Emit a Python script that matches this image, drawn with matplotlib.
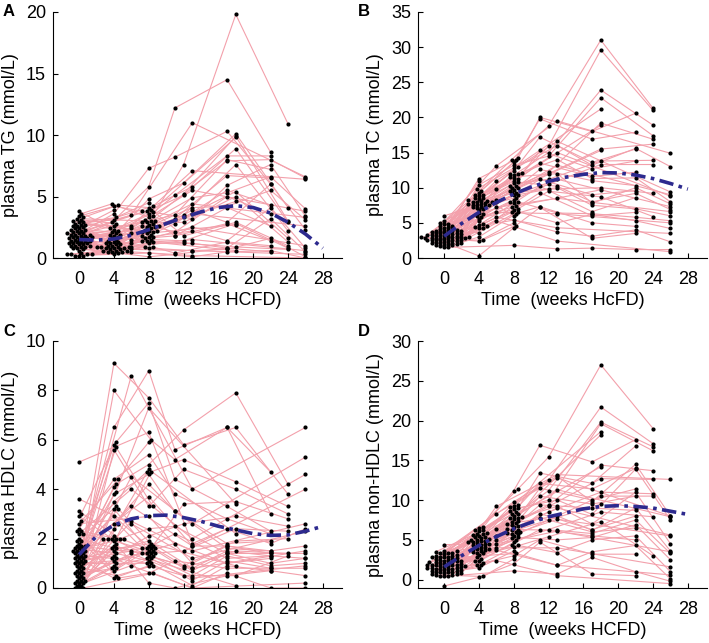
import numpy as np
import matplotlib
matplotlib.use('Agg')
import matplotlib.pyplot as plt

# Sampling schedules (weeks on HCFD) of the separate cohorts
weeks_a = [0, 4, 8, 12, 18, 24]
weeks_b = [0, 4, 8, 11, 17, 22]
weeks_c = [0, 6, 13, 26]
weeks_d = [0, 8, 13, 17, 22, 26]
weeks_e = [0, 4, 8, 18]
weeks_f = [0, 4, 8]
weeks_g = [0, 4]

# ---- plasma TG (mmol/L), one row per animal ----
tg_a = [[2.1, 1.8, 3.4, 7.6, 19.8, 10.9], [1.6, 2.2, 4.8, 6.1, 10.1, 4.1],
        [1.2, 0.9, 2.6, 5.2, 9.9, 3.0], [2.8, 3.1, 3.9, 5.1, 8.9, 2.9],
        [0.3, 1.1, 2.2, 3.5, 7.6, 2.2], [1.9, 2.6, 1.8, 3.3, 5.4, 1.6],
        [2.4, 1.4, 2.9, 2.9, 5.0, 1.3], [3.3, 4.3, 4.1, 1.8, 2.9, 1.0],
        [1.0, 0.7, 1.5, 1.4, 2.8, 0.8], [0.2, 0.5, 1.2, 1.2, 0.9, 0.7]]
tg_b = [[1.8, 2.9, 5.8, 12.2, 14.5, 8.6], [2.3, 3.6, 7.3, 8.2, 10.3, 6.0],
        [1.4, 1.9, 3.7, 5.1, 8.3, 8.3], [3.0, 2.4, 2.9, 3.5, 8.0, 7.2],
        [2.6, 1.2, 2.3, 3.2, 6.7, 6.5], [0.9, 0.8, 1.9, 2.8, 5.5, 4.3],
        [1.5, 2.0, 2.7, 2.1, 5.0, 3.6], [3.6, 4.4, 3.3, 1.8, 4.1, 2.6],
        [1.1, 1.0, 1.6, 1.8, 2.8, 1.4], [0.3, 0.6, 0.9, 0.4, 1.3, 1.0],
        [0.7, 0.4, 0.1, 0.3, 0.8, 0.5]]
tg_c = [[2.0, 3.5, 11.0, 6.6], [2.7, 2.6, 7.1, 6.4], [1.3, 2.4, 5.5, 3.8],
        [1.7, 2.0, 4.4, 3.3], [3.8, 1.5, 3.6, 2.6], [0.8, 1.2, 2.5, 1.0],
        [2.2, 0.9, 1.5, 0.6], [1.4, 0.7, 0.6, 0.3], [0.2, 0.5, 0.2, 0.0]]
tg_d = [[2.5, 4.2, 5.8, 7.9, 8.0, 6.5], [1.9, 3.8, 3.2, 5.9, 7.6, 3.4],
        [3.2, 3.0, 4.9, 5.3, 6.6, 4.0], [1.6, 2.5, 4.1, 4.2, 5.5, 3.1],
        [2.9, 2.1, 3.9, 2.9, 6.0, 2.3], [1.2, 1.7, 2.2, 1.4, 4.1, 0.8],
        [0.6, 1.4, 1.2, 0.8, 3.2, 0.5], [2.0, 0.8, 0.6, 0.7, 1.6, 0.1],
        [0.3, 0.4, 0.1, 0.5, 0.6, 0.0]]
tg_e = [[1.7, 2.3, 3.6, 9.8], [2.2, 1.6, 2.4, 4.6], [1.0, 0.9, 2.0, 2.7],
        [0.4, 0.6, 1.3, 0.6]]
tg_f = [[3.4, 4.2, 3.8], [2.9, 3.3, 4.5], [2.4, 2.1, 3.1], [2.0, 1.7, 2.8],
        [1.8, 1.3, 2.5], [1.6, 1.0, 2.1], [1.3, 0.8, 1.7], [1.1, 0.9, 3.0],
        [0.9, 1.2, 2.6], [0.3, 0.5, 1.4], [2.6, 1.5, 2.2], [1.5, 0.7, 0.9]]
tg_g = [[3.1, 2.8], [2.3, 1.9], [1.9, 1.3], [1.7, 0.9], [1.4, 1.1],
        [1.2, 0.8], [1.0, 0.6], [0.8, 0.5], [0.2, 0.3], [2.7, 3.9]]

# ---- plasma TC (mmol/L) ----
tc_a = [[3.2, 9.0, 14.0, 18.8, 31.0, 21.3], [4.1, 8.4, 12.1, 15.9, 29.6, 21.0],
        [2.8, 7.6, 11.8, 15.0, 23.9, 18.9], [3.6, 10.4, 13.2, 14.5, 22.8, 17.4],
        [2.5, 6.8, 10.0, 12.2, 19.2, 16.9], [4.6, 8.1, 9.5, 12.0, 15.5, 16.2],
        [3.0, 7.9, 10.6, 11.2, 13.8, 13.9], [2.1, 5.2, 8.3, 10.5, 13.3, 13.3],
        [3.9, 7.2, 9.0, 9.8, 10.0, 9.2], [1.8, 4.4, 7.0, 9.5, 8.7, 5.9]]
tc_b = [[3.5, 11.3, 14.2, 20.0, 18.0, 20.6], [4.3, 9.6, 13.6, 19.8, 16.9, 17.9],
        [2.9, 8.8, 12.4, 17.2, 13.6, 15.5], [3.1, 8.0, 11.2, 15.3, 12.7, 13.8],
        [5.0, 7.7, 10.3, 13.5, 11.6, 12.2], [2.6, 7.4, 9.7, 12.6, 11.0, 10.3],
        [3.4, 6.4, 8.9, 11.2, 9.0, 9.6], [2.2, 4.7, 7.8, 10.2, 6.6, 8.6],
        [3.8, 5.6, 6.9, 9.3, 6.0, 6.5], [1.6, 3.0, 6.3, 7.3, 5.0, 4.5],
        [2.4, 2.6, 4.6, 7.2, 2.8, 3.5]]
tc_c = [[4.5, 13.1, 19.5, 14.9], [3.3, 11.0, 16.6, 9.4], [2.7, 9.8, 15.0, 8.8],
        [6.0, 8.3, 13.2, 9.0], [3.0, 8.0, 11.2, 7.3], [2.3, 7.2, 8.5, 6.6],
        [3.7, 6.5, 6.3, 5.0], [1.9, 5.8, 4.3, 3.5], [2.0, 5.3, 2.4, 0.9]]
tc_d = [[3.5, 13.0, 16.0, 13.2, 15.6, 13.0], [4.0, 12.0, 14.0, 11.3, 11.4, 8.0],
        [2.8, 11.5, 12.0, 7.8, 10.0, 7.7], [3.1, 10.8, 10.2, 8.0, 9.2, 6.9],
        [2.5, 9.3, 10.0, 7.5, 7.0, 6.0], [4.8, 8.0, 6.4, 6.3, 5.8, 5.3],
        [2.0, 6.6, 5.0, 6.2, 5.3, 4.2], [3.3, 5.4, 3.7, 3.1, 4.0, 2.3],
        [1.5, 1.8, 1.3, 1.4, 1.2, 1.2]]
tc_e = [[3.6, 9.8, 12.8, 21.2], [2.9, 8.6, 11.0, 18.9], [4.2, 7.3, 9.9, 15.3],
        [2.2, 5.9, 7.4, 9.7]]
tc_f = [[5.2, 9.3, 13.9], [4.4, 8.9, 12.0], [3.8, 8.2, 11.4], [3.2, 7.8, 10.2],
        [2.9, 7.5, 9.2], [2.6, 7.1, 8.6], [3.4, 6.2, 8.0], [2.4, 4.5, 7.2],
        [1.9, 4.2, 6.5], [3.0, 2.4, 5.0], [2.7, 0.3, 4.3], [4.0, 7.9, 6.0]]
tc_g = [[4.9, 10.9], [3.7, 8.5], [3.3, 7.7], [3.0, 8.1], [2.6, 7.0],
        [2.3, 6.0], [2.1, 4.8], [1.7, 4.3], [3.9, 3.6], [2.8, 7.6]]

# ---- plasma HDLC (mmol/L) ----
hdl_a = [[1.4, 4.2, 5.0, 6.4, 7.9, 4.2], [0.8, 9.1, 7.7, 5.8, 6.5, 3.8],
         [2.3, 2.0, 4.7, 5.2, 4.3, 3.3], [0.3, 5.6, 3.3, 4.8, 4.0, 3.0],
         [1.6, 2.9, 1.6, 3.4, 3.5, 2.8], [1.1, 1.3, 2.1, 2.6, 2.9, 2.5],
         [0.1, 3.2, 1.4, 1.5, 2.4, 2.3], [2.9, 2.0, 1.3, 0.9, 1.9, 2.0],
         [0.6, 0.8, 1.7, 0.8, 1.5, 1.4], [1.2, 0.4, 0.9, 0.5, 0.5, 1.3]]
hdl_b = [[1.5, 6.5, 8.8, 5.6, 6.5, 4.7], [0.4, 8.0, 6.0, 5.2, 6.5, 3.0],
         [1.7, 5.8, 7.5, 4.4, 3.3, 2.3], [2.4, 4.4, 5.4, 3.8, 2.8, 2.2],
         [0.9, 3.8, 4.6, 3.1, 1.8, 1.9], [1.3, 2.6, 4.2, 3.1, 1.6, 1.5],
         [3.1, 2.0, 2.4, 2.5, 1.4, 1.4], [0.2, 1.5, 1.6, 2.2, 1.2, 1.3],
         [1.0, 1.1, 1.5, 1.8, 1.0, 1.2], [1.9, 0.4, 0.6, 1.1, 0.8, 0.8],
         [0.0, 1.8, 0.2, 0.0, 0.5, 0.7]]
hdl_c = [[1.6, 8.6, 4.0, 6.5], [0.7, 4.5, 2.6, 5.3], [2.2, 4.0, 2.0, 4.6],
         [1.4, 3.3, 1.7, 4.0], [0.5, 2.7, 1.5, 2.6], [3.6, 2.6, 1.2, 2.3],
         [1.1, 1.5, 0.8, 1.5], [0.3, 1.4, 0.4, 0.9], [1.8, 0.9, 0.0, 0.2]]
hdl_d = [[5.1, 6.3, 1.8, 2.4, 1.8, 2.4], [1.5, 3.7, 1.7, 1.7, 1.5, 1.7],
         [2.6, 2.9, 1.0, 1.7, 1.4, 1.4], [1.2, 1.9, 0.8, 1.5, 1.3, 1.2],
         [0.5, 1.6, 0.7, 1.4, 1.0, 1.2], [1.7, 1.4, 0.5, 1.3, 0.9, 1.0],
         [0.2, 1.2, 0.3, 1.1, 0.8, 0.8], [1.0, 1.0, 0.1, 0.9, 0.7, 0.5],
         [0.0, 0.6, 0.0, 0.6, 0.0, 0.0]]
hdl_e = [[1.3, 3.9, 7.3, 3.4], [0.6, 2.4, 4.8, 2.2], [2.0, 1.6, 1.8, 0.9],
         [0.1, 0.9, 1.2, 0.1]]
hdl_f = [[2.7, 4.4, 5.9], [1.5, 3.5, 4.7], [0.9, 5.7, 3.3], [1.9, 3.3, 1.7],
         [0.3, 2.6, 1.6], [1.4, 2.1, 1.5], [1.1, 2.0, 1.4], [0.7, 1.7, 1.3],
         [1.6, 1.4, 1.1], [0.2, 1.2, 1.0], [2.3, 0.7, 1.4], [0.8, 0.5, 0.9]]
hdl_g = [[3.0, 5.9], [1.7, 4.1], [1.2, 3.2], [0.6, 2.0], [2.2, 2.0],
         [1.5, 1.9], [0.4, 1.6], [1.3, 1.2], [0.0, 0.8], [1.0, 1.0]]

# ---- plasma non-HDLC (mmol/L) ----
nonhdl_a = [[2.0, 6.5, 11.4, 15.4, 27.0, 19.0], [2.8, 5.9, 9.3, 12.5, 21.7, 17.1],
            [1.5, 5.2, 8.0, 11.2, 19.8, 16.7], [3.3, 6.1, 8.6, 10.0, 19.6, 16.2],
            [1.1, 4.6, 7.4, 9.4, 14.4, 13.7], [2.4, 4.0, 6.9, 9.2, 12.7, 12.6],
            [1.8, 4.8, 6.2, 8.5, 11.0, 10.8], [0.6, 3.4, 5.5, 7.5, 10.5, 10.5],
            [3.0, 3.7, 5.0, 6.3, 8.5, 7.9], [1.2, 2.1, 4.1, 5.4, 7.3, 3.0]]
nonhdl_b = [[2.6, 6.6, 11.2, 16.9, 14.8, 17.6], [3.5, 5.6, 9.0, 13.4, 12.1, 16.8],
            [1.9, 5.4, 8.3, 12.1, 11.4, 14.0], [2.2, 5.0, 7.8, 11.5, 10.0, 11.4],
            [4.4, 4.5, 7.1, 10.5, 9.5, 10.5], [1.4, 4.2, 6.6, 9.4, 9.0, 8.7],
            [2.9, 3.9, 6.0, 8.3, 6.3, 8.0], [0.9, 3.1, 5.8, 7.8, 6.0, 6.5],
            [1.7, 2.6, 4.4, 6.3, 5.5, 5.0], [0.5, 1.9, 3.0, 5.0, 3.2, 3.2],
            [-0.8, 0.3, 2.0, 4.7, 0.7, 0.5]]
nonhdl_c = [[2.3, 9.2, 13.2, 12.6], [3.2, 8.3, 12.8, 8.0], [1.6, 6.4, 11.3, 7.9],
            [2.7, 5.5, 9.0, 5.6], [1.0, 5.0, 7.6, 5.5], [1.9, 4.5, 6.1, 3.5],
            [0.7, 4.0, 4.0, 1.6], [2.1, 3.7, 1.8, 0.6], [1.3, 2.4, 0.5, -0.5]]
nonhdl_d = [[3.6, 9.8, 13.0, 9.8, 14.5, 8.0], [2.5, 8.9, 10.0, 8.2, 13.9, 7.5],
            [1.4, 7.6, 9.2, 7.0, 11.0, 4.5], [3.1, 7.0, 8.0, 6.2, 9.0, 3.6],
            [2.0, 6.3, 6.2, 5.8, 7.5, 3.3], [0.8, 5.3, 5.0, 5.3, 6.9, 2.5],
            [1.7, 4.3, 3.4, 5.0, 5.5, 1.0], [2.6, 3.3, 1.8, 3.5, 4.3, 0.1],
            [0.4, 1.1, 0.7, 2.8, 1.0, -0.2]]
nonhdl_e = [[2.2, 5.7, 9.1, 18.6], [3.4, 5.3, 8.2, 18.2], [1.5, 4.4, 7.7, 14.2],
            [0.9, 3.6, 5.9, 9.5]]
nonhdl_f = [[3.0, 6.2, 9.4], [2.5, 5.8, 8.5], [2.1, 5.1, 7.9], [1.8, 4.9, 7.3],
            [1.6, 4.3, 6.8], [1.3, 3.8, 6.4], [1.0, 3.5, 5.7], [0.7, 2.8, 5.2],
            [2.8, 2.3, 4.7], [1.2, 1.5, 3.6], [0.6, 0.4, 2.6], [3.3, 4.7, 6.0]]
nonhdl_g = [[2.9, 6.3], [2.4, 5.5], [1.9, 4.7], [1.5, 4.1], [1.1, 3.3],
            [0.8, 2.4], [2.2, 5.0], [3.6, 4.5], [0.5, 1.8], [1.7, 3.9]]

# Group mean trends (dashed curves), read every 2 weeks
fit_weeks = [0, 2, 4, 6, 8, 10, 12, 14, 16, 18, 20, 22, 24, 26, 28]
tg_fit = [1.5, 1.45, 1.55, 1.85, 2.3, 2.8, 3.3, 3.75, 4.1, 4.25, 4.1, 3.65, 2.9, 1.95, 0.8]
tc_fit = [3.1, 4.9, 6.5, 7.9, 9.1, 10.1, 10.9, 11.5, 11.9, 12.15, 12.1, 11.8, 11.3, 10.6, 9.8]
hdl_fit = [1.35, 2.1, 2.55, 2.8, 2.93, 2.95, 2.85, 2.7, 2.5, 2.35, 2.2, 2.13, 2.15, 2.3, 2.5]
nonhdl_fit = [1.6, 3.0, 4.3, 5.4, 6.4, 7.2, 7.9, 8.4, 8.9, 9.2, 9.3, 9.2, 9.0, 8.6, 8.2]

all_weeks = [weeks_a, weeks_b, weeks_c, weeks_d, weeks_e, weeks_f, weeks_g]

plt.rcParams['font.family'] = ['Liberation Sans', 'DejaVu Sans']

PX_PER_WEEK = 8.72
XLIM = (-3.0, 30.2)


# spread crowded columns sideways like a beeswarm so the dots don't pile up
def swarm(vals, px_per_unit, step=2.1, dot=2.7):
    order = np.argsort(vals, kind='stable')
    cands = [0]
    for k in range(1, 15):
        cands += [k, -k]
    px_list, py_list = [], []
    out = np.zeros(len(vals))
    for i in order:
        y = vals[i] * px_per_unit
        x = 0.0
        for k in cands:
            x = k * step
            if all((x - a) ** 2 + (y - b) ** 2 >= dot ** 2 for a, b in zip(px_list, py_list)):
                break
        px_list.append(x)
        py_list.append(y)
        out[i] = x
    return out / PX_PER_WEEK


def draw_panel(ax, series, fit, ylim, yticks, ylabel, xlabel, px_per_unit):
    # gather every measurement by sampling week
    cols = {}
    for gi, (weeks, rows) in enumerate(zip(all_weeks, series)):
        for ri, row in enumerate(rows):
            for j, (w, v) in enumerate(zip(weeks, row)):
                cols.setdefault(w, []).append(((gi, ri, j), v))

    xpos = {}
    for w, lst in cols.items():
        vals = np.array([v for _, v in lst])
        if w in (0, 4, 8):
            offs = swarm(vals, px_per_unit)
        else:
            offs = np.zeros(len(vals))
        for (key, _), o in zip(lst, offs):
            xpos[key] = w + o

    # individual trajectories
    for gi, (weeks, rows) in enumerate(zip(all_weeks, series)):
        for ri, row in enumerate(rows):
            xs = [xpos[(gi, ri, j)] for j in range(len(weeks))]
            ax.plot(xs, row, color='#f3a0ab', lw=0.8, zorder=1)

    xs_all, ys_all = [], []
    for lst in cols.values():
        for key, v in lst:
            xs_all.append(xpos[key])
            ys_all.append(v)
    ax.scatter(xs_all, ys_all, s=9, color='black', linewidths=0, zorder=2)

    ax.plot(fit_weeks, fit, color='#2d2a8e', lw=2.6,
            linestyle=(0, (4, 1.5, 1.0, 1.5)), zorder=3)

    ax.set_xlim(*XLIM)
    ax.set_ylim(*ylim)
    ax.set_xticks(range(0, 29, 4))
    ax.set_yticks(yticks)
    for s in ['top', 'right']:
        ax.spines[s].set_visible(False)
    for s in ['left', 'bottom']:
        ax.spines[s].set_linewidth(0.8)
    ax.tick_params(direction='in', length=3.5, width=0.8, labelsize=13)
    ax.tick_params(axis='x', pad=9)
    ax.tick_params(axis='y', pad=5)
    ax.set_ylabel(ylabel, fontsize=13, labelpad=5)
    ax.set_xlabel(xlabel, fontsize=13, labelpad=3)


fig = plt.figure(figsize=(7.09, 6.43), dpi=100)
W, H = 709.0, 643.0


def box(left, top, right, bottom):
    return [left / W, 1 - bottom / H, (right - left) / W, (bottom - top) / H]


ax_a = fig.add_axes(box(53, 12, 342, 258))
ax_b = fig.add_axes(box(418, 12, 707, 258))
ax_c = fig.add_axes(box(53, 341, 342, 588))
ax_d = fig.add_axes(box(418, 341, 707, 588))

draw_panel(ax_a, [tg_a, tg_b, tg_c, tg_d, tg_e, tg_f, tg_g], tg_fit,
           (0, 20), range(0, 21, 5), 'plasma TG (mmol/L)',
           'Time  (weeks HCFD)', 246 / 20)
draw_panel(ax_b, [tc_a, tc_b, tc_c, tc_d, tc_e, tc_f, tc_g], tc_fit,
           (0, 35), range(0, 36, 5), 'plasma TC (mmol/L)',
           'Time  (weeks HcFD)', 246 / 35)
draw_panel(ax_c, [hdl_a, hdl_b, hdl_c, hdl_d, hdl_e, hdl_f, hdl_g], hdl_fit,
           (0, 10), range(0, 11, 2), 'plasma HDLC (mmol/L)',
           'Time  (weeks HCFD)', 247 / 10)
draw_panel(ax_d, [nonhdl_a, nonhdl_b, nonhdl_c, nonhdl_d, nonhdl_e, nonhdl_f, nonhdl_g],
           nonhdl_fit, (-1.05, 30), range(0, 31, 5), 'plasma non-HDLC (mmol/L)',
           'Time  (weeks HCFD)', 247 / 31.05)

# panel letters
for letter, x, y in [('A', 3, 4), ('B', 358, 4), ('C', 3, 324), ('D', 358, 324)]:
    fig.text(x / W, 1 - y / H, letter, fontsize=12, fontweight='bold',
             ha='left', va='top')

fig.savefig('out.png', dpi=100)
